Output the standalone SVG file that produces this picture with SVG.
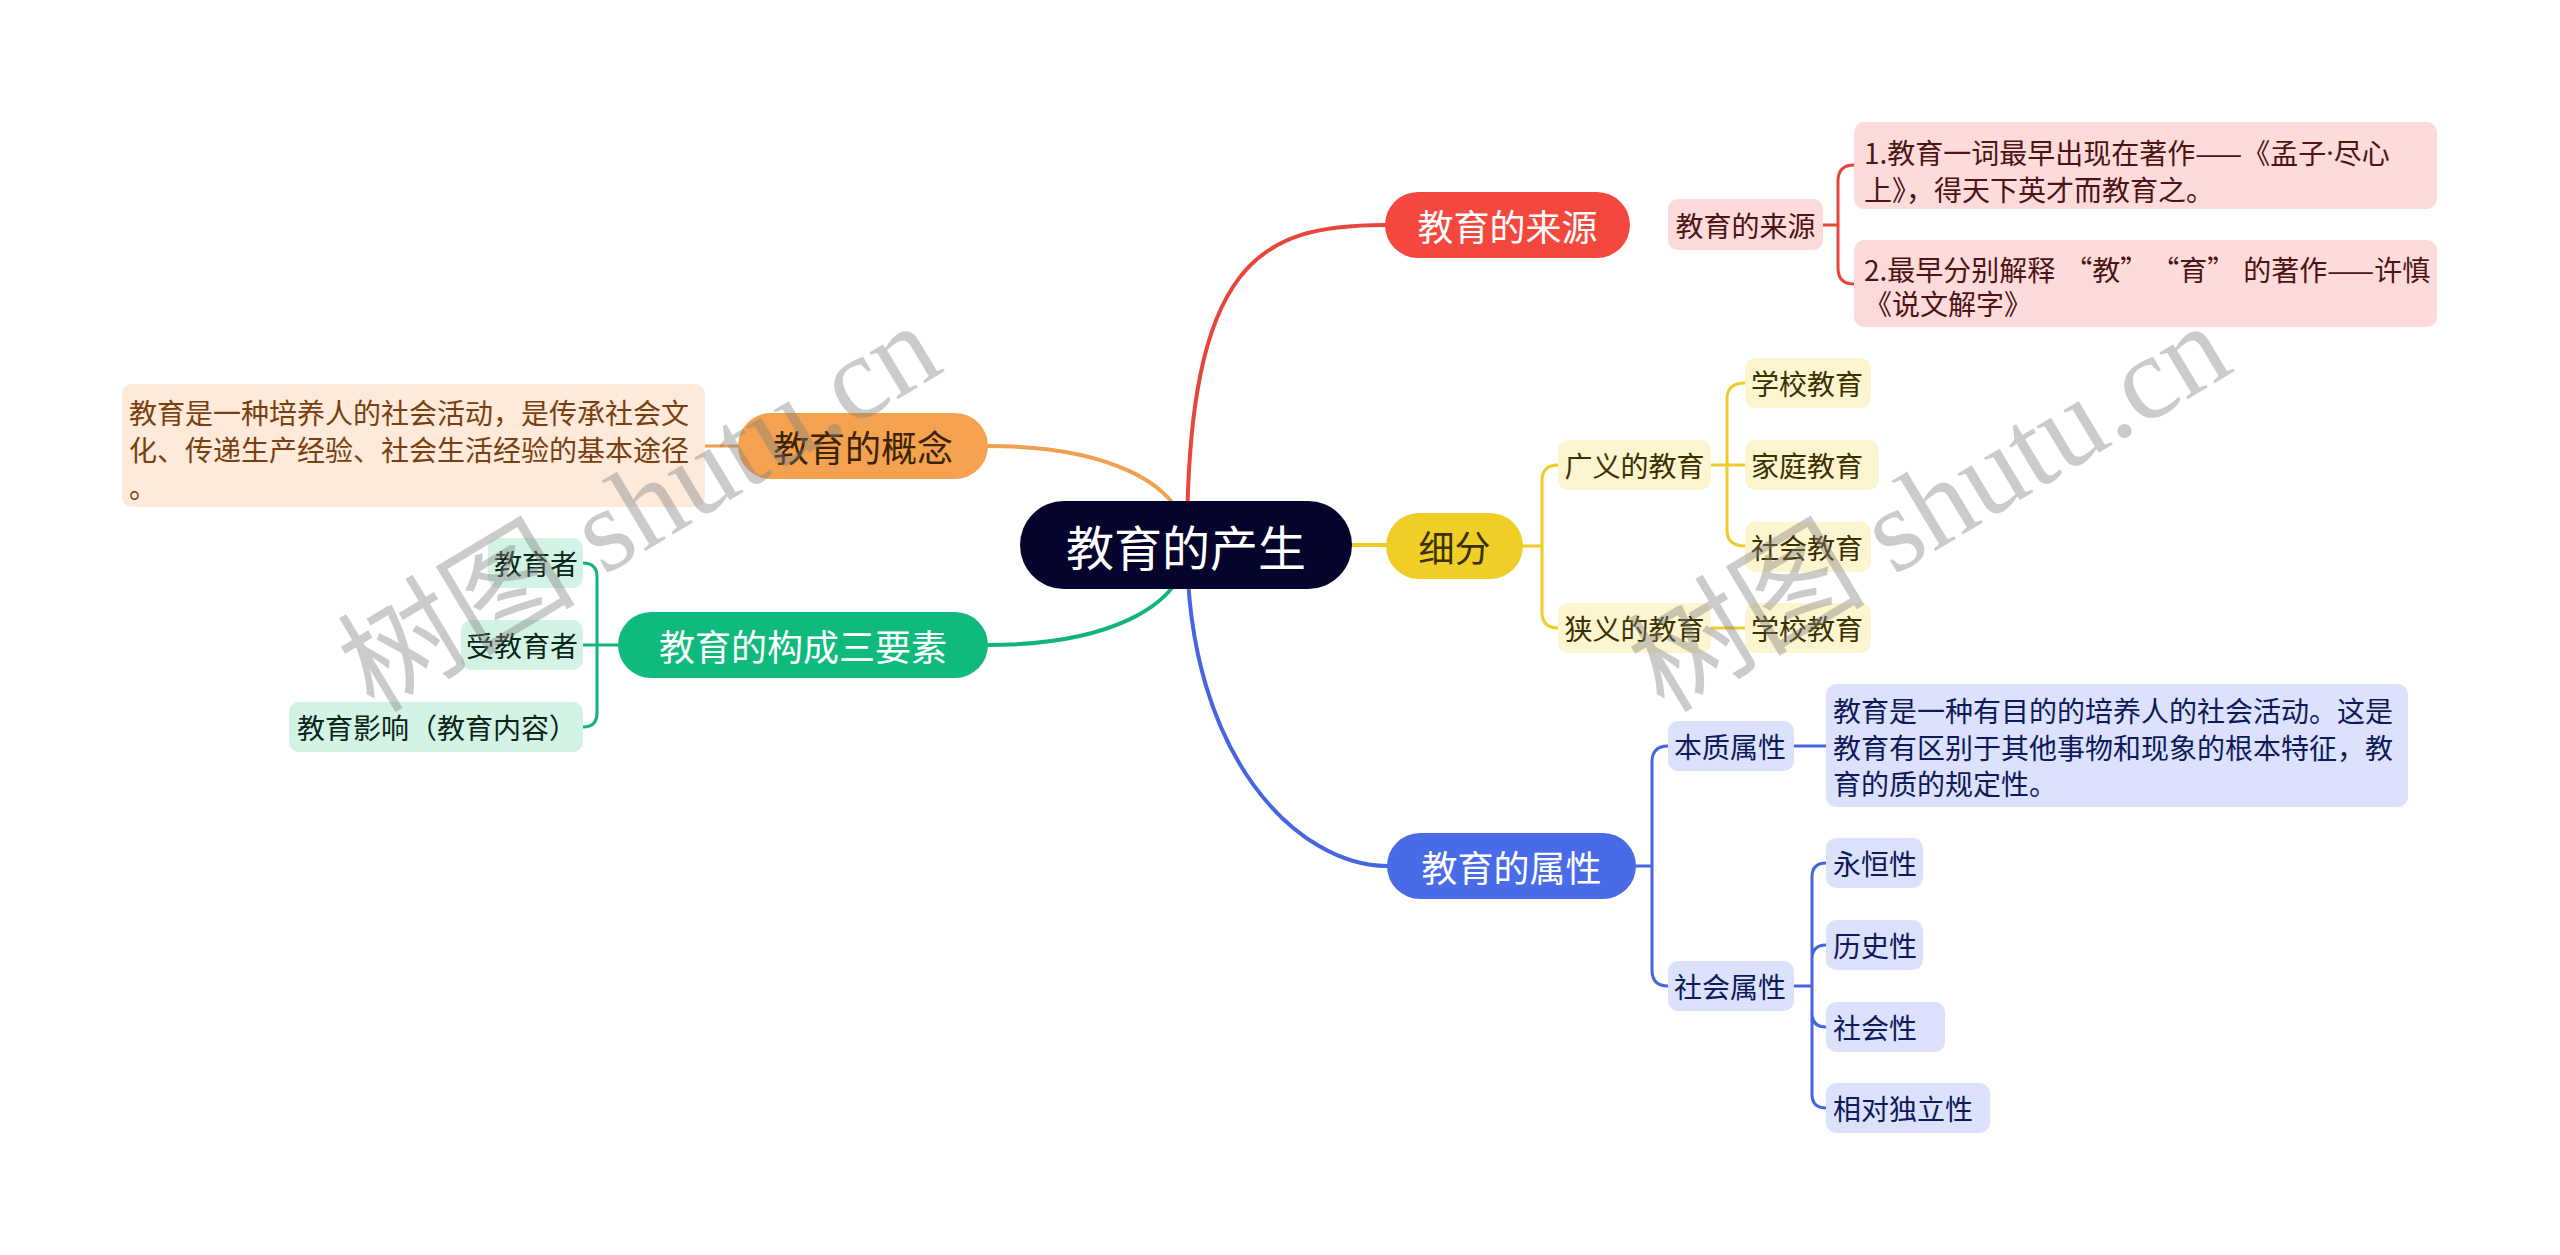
<svg xmlns="http://www.w3.org/2000/svg" width="2560" height="1255" viewBox="0 0 2560 1255">
<style>
text{font-family:"Noto Sans CJK SC","Noto Sans",sans-serif;dominant-baseline:central}
.main{font-size:36px}
.sub{font-size:28px}
.c{text-anchor:middle}
.e{text-anchor:end}
.lat{font-family:"Noto Sans",sans-serif}
.ln{fill:none;stroke-linecap:round;stroke-linejoin:round}
.m{stroke-width:4}
.b{stroke-width:3}
.red{stroke:#e8453c}.org{stroke:#f0a050}.yel{stroke:#eecd28}.grn{stroke:#13b47a}.blu{stroke:#4566e0}
.wm{font-family:"Liberation Serif","Noto Sans CJK SC",serif;font-size:119px;fill:#808080;opacity:0.4;dominant-baseline:auto}
</style>
<rect width="2560" height="1255" fill="#ffffff"/>
<g id="connectors">
<path class="ln m red" d="M1187,545 C1187,260 1260,225 1385,225"/>
<path class="ln m org" d="M1187,545 C1187,480 1100,446 988,446"/>
<path class="ln m yel" d="M1352,545 L1386,545"/>
<path class="ln m grn" d="M1187,545 C1187,610 1100,645 988,645"/>
<path class="ln m blu" d="M1187,545 C1187,760 1300,866 1387,866"/>
<path class="ln b red" d="M1823,225 H1838 M1838,225 V181 Q1838,165 1854,165 M1838,225 V268 Q1838,284 1854,284"/>
<path class="ln b org" d="M705,446 H738"/>
<path class="ln b yel" d="M1523,546 H1542 M1542,546 V481 Q1542,465 1558,465 M1542,546 V612 Q1542,628 1558,628"/>
<path class="ln b yel" d="M1711,465 H1745 M1727,465 V399 Q1727,383 1745,383 M1727,465 V530 Q1727,546 1745,546 M1711,628 H1745"/>
<path class="ln b grn" d="M618,645 H583 M597,645 V577 Q597,563 583,563 M597,645 V713 Q597,727 583,727"/>
<path class="ln b blu" d="M1636,866 H1652 M1652,866 V762 Q1652,746 1668,746 M1652,866 V970 Q1652,986 1668,986"/>
<path class="ln b blu" d="M1794,746 H1826"/>
<path class="ln b blu" d="M1794,986 H1812 M1812,986 V877 Q1812,863 1826,863 M1812,986 V959 Q1812,945 1826,945 M1812,986 V1013 Q1812,1027 1826,1027 M1812,986 V1094 Q1812,1108 1826,1108"/>
</g>
<g id="root">
<rect x="1020" y="501" width="332" height="88" rx="44" fill="#04042c"/>
<text x="1186" y="545" class="c" style="font-size:48px" fill="#ffffff">教育的产生</text>
</g>
<g id="n-source">
<rect x="1385" y="192" width="245" height="66" rx="33" fill="#f4483e"/>
<text x="1507.5" y="225" class="main c" fill="#ffffff">教育的来源</text>
</g>
<g id="n-source-sub">
<rect x="1668" y="199" width="155" height="51" rx="10" fill="#fddbdb"/>
<text x="1745.5" y="225" class="sub c" fill="#4d1414">教育的来源</text>
</g>
<g id="n-source-1">
<rect x="1854" y="122" width="583" height="87" rx="10" fill="#fddbdb"/>
<text class="sub" fill="#4d1414"><tspan x="1864" y="152">1.教育一词最早出现在著作——《孟子</tspan><tspan class="lat">·</tspan><tspan>尽心</tspan><tspan x="1864" y="189">上》，得天下英才而教育之。</tspan></text>
</g>
<g id="n-source-2">
<rect x="1854" y="240" width="583" height="87" rx="10" fill="#fddbdb"/>
<text class="sub" fill="#4d1414"><tspan x="1864" y="269">2.最早分别解释</tspan><tspan dx="9">“教”</tspan><tspan dx="17">“育”</tspan><tspan dx="8">的著作——许慎</tspan><tspan x="1864" y="303">《说文解字》</tspan></text>
</g>
<g id="n-concept">
<rect x="738" y="413" width="250" height="66" rx="33" fill="#f4a24f"/>
<text x="863" y="446" class="main c" fill="#3b2304">教育的概念</text>
</g>
<g id="n-concept-1">
<rect x="122" y="384" width="583" height="123" rx="10" fill="#fdeadb"/>
<text class="sub" fill="#7a3f0e"><tspan x="129" y="412">教育是一种培养人的社会活动，是传承社会文</tspan><tspan x="129" y="449">化、传递生产经验、社会生活经验的基本途径</tspan><tspan x="129" y="486">。</tspan></text>
</g>
<g id="n-detail">
<rect x="1386" y="513" width="137" height="66" rx="33" fill="#efcf26"/>
<text x="1454.5" y="546" class="main c" fill="#3a3000">细分</text>
</g>
<g id="n-broad">
<rect x="1558" y="440" width="153" height="50" rx="10" fill="#fdf5cf"/>
<text x="1634.5" y="465" class="sub c" fill="#3a3000">广义的教育</text>
</g>
<g id="n-narrow">
<rect x="1558" y="603" width="153" height="50" rx="10" fill="#fdf5cf"/>
<text x="1634.5" y="628" class="sub c" fill="#3a3000">狭义的教育</text>
</g>
<g id="n-school1">
<rect x="1745" y="358" width="126" height="50" rx="10" fill="#fdf5cf"/>
<text x="1751" y="383" class="sub" fill="#3a3000">学校教育</text>
</g>
<g id="n-family">
<rect x="1745" y="440" width="134" height="50" rx="10" fill="#fdf5cf"/>
<text x="1751" y="465" class="sub" fill="#3a3000">家庭教育</text>
</g>
<g id="n-society">
<rect x="1745" y="522" width="126" height="50" rx="10" fill="#fdf5cf"/>
<text x="1751" y="547" class="sub" fill="#3a3000">社会教育</text>
</g>
<g id="n-school2">
<rect x="1745" y="603" width="126" height="50" rx="10" fill="#fdf5cf"/>
<text x="1751" y="628" class="sub" fill="#3a3000">学校教育</text>
</g>
<g id="n-elements">
<rect x="618" y="612" width="370" height="66" rx="33" fill="#10ba7c"/>
<text x="803" y="645" class="main c" fill="#ffffff">教育的构成三要素</text>
</g>
<g id="n-educator">
<rect x="488" y="538" width="95" height="50" rx="10" fill="#d3f3e5"/>
<text x="578" y="563" class="sub e" fill="#0b2518">教育者</text>
</g>
<g id="n-educatee">
<rect x="461" y="620" width="122" height="50" rx="10" fill="#d3f3e5"/>
<text x="578" y="645" class="sub e" fill="#0b2518">受教育者</text>
</g>
<g id="n-influence">
<rect x="289" y="702" width="294" height="50" rx="10" fill="#d3f3e5"/>
<text x="577" y="727" class="sub e" fill="#0b2518">教育影响（教育内容）</text>
</g>
<g id="n-attr">
<rect x="1387" y="833" width="249" height="66" rx="33" fill="#4a6be8"/>
<text x="1511.5" y="866" class="main c" fill="#ffffff">教育的属性</text>
</g>
<g id="n-essence">
<rect x="1668" y="721" width="126" height="50" rx="10" fill="#dce2fb"/>
<text x="1674" y="746" class="sub" fill="#0f1a5a">本质属性</text>
</g>
<g id="n-essence-1">
<rect x="1826" y="684" width="582" height="123" rx="10" fill="#dce2fb"/>
<text class="sub" fill="#0f1a5a"><tspan x="1833" y="710">教育是一种有目的的培养人的社会活动。这是</tspan><tspan x="1833" y="747">教育有区别于其他事物和现象的根本特征，教</tspan><tspan x="1833" y="783">育的质的规定性。</tspan></text>
</g>
<g id="n-social">
<rect x="1668" y="961" width="126" height="50" rx="10" fill="#dce2fb"/>
<text x="1674" y="986" class="sub" fill="#0f1a5a">社会属性</text>
</g>
<g id="n-eternal">
<rect x="1826" y="838" width="97" height="50" rx="10" fill="#dce2fb"/>
<text x="1833" y="863" class="sub" fill="#0f1a5a">永恒性</text>
</g>
<g id="n-history">
<rect x="1826" y="920" width="97" height="50" rx="10" fill="#dce2fb"/>
<text x="1833" y="945" class="sub" fill="#0f1a5a">历史性</text>
</g>
<g id="n-sociality">
<rect x="1826" y="1002" width="119" height="50" rx="10" fill="#dce2fb"/>
<text x="1833" y="1027" class="sub" fill="#0f1a5a">社会性</text>
</g>
<g id="n-relative">
<rect x="1826" y="1083" width="164" height="50" rx="10" fill="#dce2fb"/>
<text x="1833" y="1108" class="sub" fill="#0f1a5a">相对独立性</text>
</g>
<g id="watermark">
<text class="wm" x="374" y="714" transform="rotate(-31 374 714)">树图 shutu.cn</text>
<text class="wm" x="1664" y="714" transform="rotate(-31 1664 714)">树图 shutu.cn</text>
</g>
</svg>
